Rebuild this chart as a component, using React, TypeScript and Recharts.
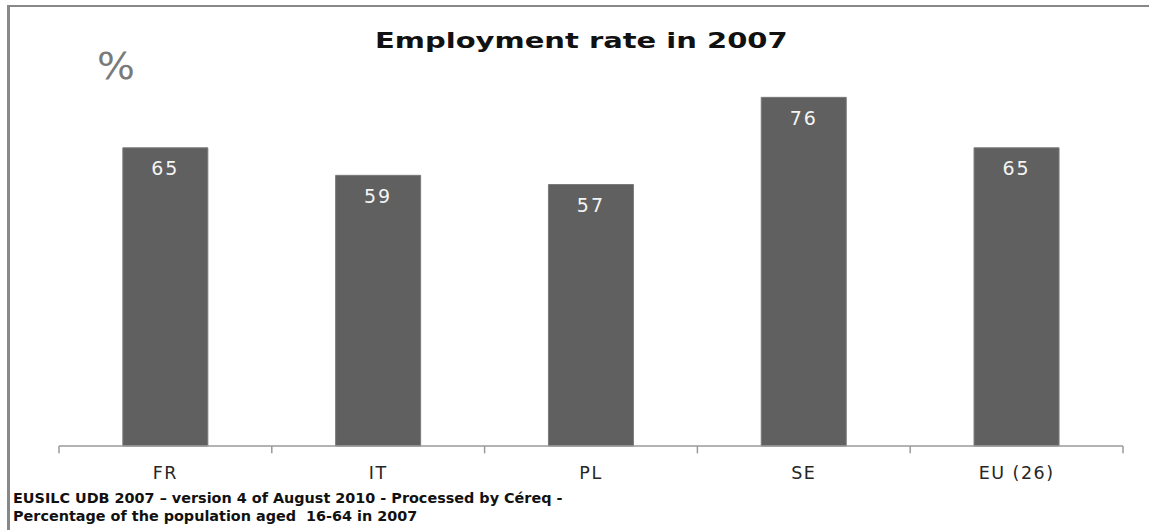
import React from 'react';
import { BarChart, Bar, XAxis, YAxis, LabelList, ReferenceLine } from 'recharts';

const countries = ['FR', 'IT', 'PL', 'SE', 'EU (26)'];
const employmentRate = [65, 59, 57, 76, 65];
const titleText = 'Employment rate in 2007';
const unitText = '%';
const sourceLines = [
  'EUSILC UDB 2007 \u2013 version 4 of August 2010 - Processed by C\u00e9req -',
  'Percentage of the population aged  16-64 in 2007',
];

const data = countries.map((c, i) => ({ country: c, value: employmentRate[i] }));

const FONT = '"DejaVu Sans", Verdana, sans-serif';
const AXIS_GREY = '#9a9a9a';

export default function App() {
  return (
    <div style={{ position: 'absolute', left: 0, top: 0, width: 1149, height: 530, background: '#fff', overflow: 'hidden' }}>
      <div style={{ position: 'absolute', left: 7, top: 5, width: 1142, height: 525, borderTop: '2px solid #888', borderLeft: '3px solid #888', boxSizing: 'border-box' }} />
      <BarChart
        width={1149}
        height={530}
        data={data}
        margin={{ top: 79, right: 26, bottom: 54, left: 59 }}
        barCategoryGap="30%"
        style={{ position: 'absolute', left: 0, top: 0 }}
      >
        <YAxis hide domain={[0, 80]} />
        <XAxis
          dataKey="country"
          height={30}
          axisLine={{ stroke: AXIS_GREY, strokeWidth: 1.5 }}
          tickLine={false}
          tickSize={8}
          tickMargin={13}
          tick={{ fontSize: 17.5, fill: '#262626', fontFamily: FONT, letterSpacing: 1.5 }}
        />
        {countries.map((c) => (
          <ReferenceLine
            key={'s' + c}
            segment={[{ x: c, y: 0 }, { x: c, y: -1.6 }]}
            position="start"
            ifOverflow="visible"
            stroke={AXIS_GREY}
            strokeWidth={1.5}
          />
        ))}
        <ReferenceLine
          segment={[{ x: countries[countries.length - 1], y: 0 }, { x: countries[countries.length - 1], y: -1.6 }]}
          position="end"
          ifOverflow="visible"
          stroke={AXIS_GREY}
          strokeWidth={1.5}
        />
        <Bar dataKey="value" fill="#606060" stroke="#7a7a7a" strokeWidth={1} isAnimationActive={false}>
          <LabelList
            dataKey="value"
            position="insideTop"
            offset={14}
            style={{ fontSize: 19, fill: '#f4f4f4', fontFamily: FONT, letterSpacing: 2 }}
          />
        </Bar>
      </BarChart>
      <div style={{ position: 'absolute', left: 375, top: 29, fontFamily: FONT, fontWeight: 'bold', fontSize: 21, color: '#111', whiteSpace: 'nowrap', transform: 'scaleX(1.38)', transformOrigin: 'left top' }}>
        {titleText}
      </div>
      <div style={{ position: 'absolute', left: 97, top: 45, fontFamily: FONT, fontSize: 38, color: '#7a7a7a', whiteSpace: 'nowrap', lineHeight: '42px', transform: 'scaleX(1.05)', transformOrigin: 'left top' }}>
        {unitText}
      </div>
      <div style={{ position: 'absolute', left: 13, top: 489, fontFamily: FONT, fontWeight: 'bold', fontSize: 14.4, color: '#111', whiteSpace: 'nowrap', lineHeight: '18px' }}>
        {sourceLines.map((l) => (
          <div key={l} style={{ whiteSpace: 'pre' }}>{l}</div>
        ))}
      </div>
    </div>
  );
}
